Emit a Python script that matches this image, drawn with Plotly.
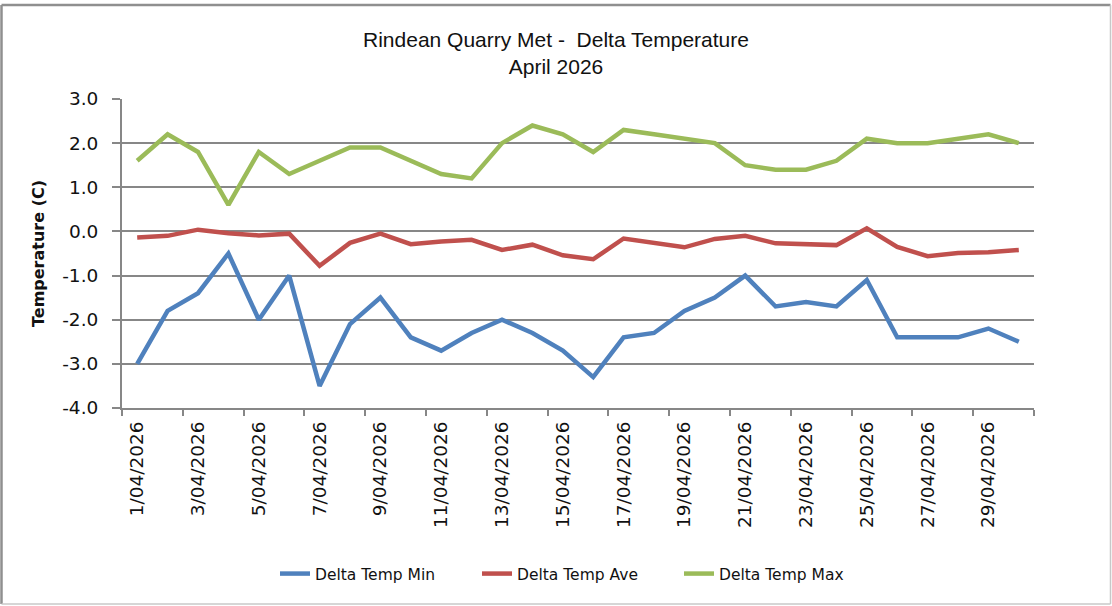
import plotly.graph_objects as go

dates = [
    "1/04/2026", "2/04/2026", "3/04/2026", "4/04/2026", "5/04/2026",
    "6/04/2026", "7/04/2026", "8/04/2026", "9/04/2026", "10/04/2026",
    "11/04/2026", "12/04/2026", "13/04/2026", "14/04/2026", "15/04/2026",
    "16/04/2026", "17/04/2026", "18/04/2026", "19/04/2026", "20/04/2026",
    "21/04/2026", "22/04/2026", "23/04/2026", "24/04/2026", "25/04/2026",
    "26/04/2026", "27/04/2026", "28/04/2026", "29/04/2026", "30/04/2026",
]

delta_min = [-3.0, -1.8, -1.4, -0.5, -2.0, -1.0, -3.5, -2.1, -1.5, -2.4,
             -2.7, -2.3, -2.0, -2.3, -2.7, -3.3, -2.4, -2.3, -1.8, -1.5,
             -1.0, -1.7, -1.6, -1.7, -1.1, -2.4, -2.4, -2.4, -2.2, -2.5]

delta_ave = [-0.14, -0.10, 0.04, -0.04, -0.09, -0.05, -0.78, -0.26, -0.05, -0.29,
             -0.23, -0.19, -0.42, -0.30, -0.54, -0.63, -0.16, -0.26, -0.36, -0.17,
             -0.10, -0.27, -0.29, -0.31, 0.07, -0.35, -0.56, -0.49, -0.47, -0.42]

delta_max = [1.6, 2.2, 1.8, 0.6, 1.8, 1.3, 1.6, 1.9, 1.9, 1.6,
             1.3, 1.2, 2.0, 2.4, 2.2, 1.8, 2.3, 2.2, 2.1, 2.0,
             1.5, 1.4, 1.4, 1.6, 2.1, 2.0, 2.0, 2.1, 2.2, 2.0]

y_tick_values = [-4, -3, -2, -1, 0, 1, 2, 3]
y_tick_labels = ["-4.0", "-3.0", "-2.0", "-1.0", "0.0", "1.0", "2.0", "3.0"]

series_names = ["Delta Temp Min", "Delta Temp Ave", "Delta Temp Max"]
series_colors = ["#4F81BD", "#C0504D", "#9BBB59"]

W, H = 1112, 606
L, R, T, B = 122, 78, 99, 198
PW, PH = W - L - R, H - T - B


def px_x(p):
    return (p - L) / PW


def px_y(p):
    return (H - B - p) / PH


fig = go.Figure()
for name, vals, col in zip(series_names, [delta_min, delta_ave, delta_max], series_colors):
    fig.add_trace(go.Scatter(
        x=dates, y=vals, mode="lines", name=name,
        line=dict(color=col, width=4.5),
    ))

grid_col = "#878787"
fig.update_layout(
    width=W, height=H,
    margin=dict(l=L, r=R, t=T, b=B),
    paper_bgcolor="white", plot_bgcolor="white",
    font=dict(family="DejaVu Sans", color="#111111"),
    title=dict(
        text="Rindean Quarry Met -  Delta Temperature<br>April 2026",
        x=0.5, xref="container", xanchor="center",
        y=1 - 47 / H, yref="container", yanchor="top",
        font=dict(family="Liberation Sans", size=21, color="#111111"),
    ),
    xaxis=dict(
        type="category",
        range=[-0.5, 29.5],
        tickmode="linear", dtick=2, tick0=0,
        tickson="boundaries",
        ticks="outside", ticklen=6, tickwidth=2, tickcolor=grid_col,
        tickangle=-90,
        tickfont=dict(size=18.5, family="DejaVu Sans", color="#111111"),
        showline=True, linecolor=grid_col, linewidth=2,
        showgrid=False, zeroline=False,
        ticklabelstandoff=4,
    ),
    yaxis=dict(
        range=[-4, 3],
        tickmode="array", tickvals=y_tick_values, ticktext=y_tick_labels,
        ticks="outside", ticklen=8, tickwidth=2, tickcolor=grid_col,
        tickfont=dict(size=18.5, family="DejaVu Sans", color="#111111"),
        showline=True, linecolor=grid_col, linewidth=2,
        showgrid=True, gridcolor=grid_col, gridwidth=2,
        zeroline=False,
        ticklabelstandoff=10,
        title=dict(
            text="Temperature (C)",
            font=dict(size=16, family="DejaVu Sans", color="#111111", weight="bold"),
            standoff=14,
        ),
    ),
    legend=dict(
        orientation="h",
        x=px_x(275), xanchor="left",
        y=px_y(574), yanchor="middle",
        entrywidth=157, entrywidthmode="pixels",
        font=dict(size=15.5, family="DejaVu Sans", color="#111111"),
        bgcolor="rgba(0,0,0,0)",
    ),
    showlegend=True,
)

# chart-area border
border = [
    (1.5, 5, 1110.5, 5, "#8f8f8f", 2.5),
    (1.5, 5, 1.5, 604, "#8f8f8f", 2.5),
    (1110.5, 5, 1110.5, 604, "#c8c8c8", 1.5),
    (1.5, 604, 1110.5, 604, "#c8c8c8", 1.5),
]
for x0, y0, x1, y1, c, w in border:
    fig.add_shape(type="line", xref="paper", yref="paper",
                  x0=px_x(x0), y0=px_y(y0), x1=px_x(x1), y1=px_y(y1),
                  line=dict(color=c, width=w), layer="above")

fig.write_html(
    "out.html",
    config={"displayModeBar": False},
    post_script="document.body.style.margin='0';document.body.style.overflow='hidden';",
)
